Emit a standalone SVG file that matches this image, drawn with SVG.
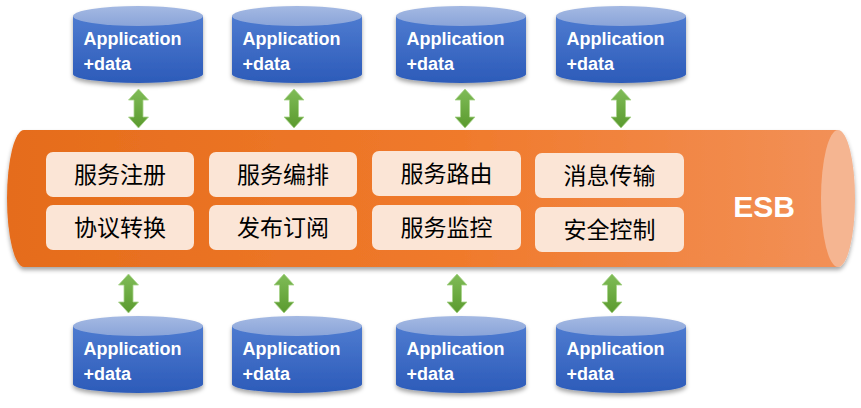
<svg xmlns="http://www.w3.org/2000/svg" width="861" height="408" viewBox="0 0 861 408">
<defs>
<linearGradient id="tubeG" x1="0" y1="0" x2="1" y2="0">
<stop offset="0" stop-color="#E56C1B"/>
<stop offset="0.55" stop-color="#F07A2C"/>
<stop offset="1" stop-color="#F29057"/>
</linearGradient>
<linearGradient id="bodyG" x1="0" y1="0" x2="0" y2="1">
<stop offset="0" stop-color="#4E7BD0"/>
<stop offset="1" stop-color="#2C5BB9"/>
</linearGradient>
<linearGradient id="topG" x1="0" y1="0" x2="0" y2="1">
<stop offset="0" stop-color="#A4B9E3"/>
<stop offset="1" stop-color="#8AA4D9"/>
</linearGradient>
<linearGradient id="arrG" x1="0" y1="0" x2="0" y2="1">
<stop offset="0" stop-color="#80BC58"/>
<stop offset="1" stop-color="#5A9A2E"/>
</linearGradient>
<filter id="sh" x="-10%" y="-10%" width="120%" height="130%">
<feDropShadow dx="0" dy="3" stdDeviation="2" flood-color="#000" flood-opacity="0.35"/>
</filter>
<g id="cyl">
<path d="M0,16 L0,74 A65,9 0 0 0 130,74 L130,16 Z" fill="url(#bodyG)"/>
<ellipse cx="65" cy="16" rx="65" ry="10" fill="url(#topG)"/>
</g>
<path id="arr" d="M0,0 L10,11 L4.5,11 L4.5,28 L10,28 L0,39 L-10,28 L-4.5,28 L-4.5,11 L-10,11 Z" fill="url(#arrG)" stroke="#A8D38A" stroke-width="0.8"/>
</defs>
<style>
.app{font-family:"Liberation Sans",Arial,sans-serif;font-weight:bold;font-size:18px;fill:#fff}
.box{fill:#FBE5D6}
.lbl{font-family:"Noto Sans CJK SC","Noto Sans",sans-serif;font-size:23px;fill:#000;text-anchor:middle}
.esb{font-family:"Liberation Sans",Arial,sans-serif;font-weight:bold;font-size:30px;fill:#fff;text-anchor:middle}
</style>
<rect width="861" height="408" fill="#fff"/>

<g id="esb">
<g filter="url(#sh)">
<path d="M838,130 L24,130 A17,68.5 0 0 0 24,267 L838,267 Z" fill="url(#tubeG)"/>
<ellipse cx="838" cy="198.5" rx="17" ry="68.5" fill="#F5B591"/>
</g>
<text class="esb" x="764" y="217">ESB</text>
</g>

<g id="box-zhuce"><rect class="box" x="46" y="152" width="148" height="45" rx="7"/><text class="lbl" x="120" y="183">服务注册</text></g>
<g id="box-bianpai"><rect class="box" x="209" y="152" width="148" height="45" rx="7"/><text class="lbl" x="283" y="183">服务编排</text></g>
<g id="box-luyou"><rect class="box" x="372" y="151" width="149" height="45" rx="7"/><text class="lbl" x="446.5" y="182">服务路由</text></g>
<g id="box-chuanshu"><rect class="box" x="535" y="153" width="149" height="45" rx="7"/><text class="lbl" x="609.5" y="184">消息传输</text></g>
<g id="box-zhuanhuan"><rect class="box" x="46" y="205" width="148" height="45" rx="7"/><text class="lbl" x="120" y="236">协议转换</text></g>
<g id="box-dingyue"><rect class="box" x="209" y="205" width="148" height="45" rx="7"/><text class="lbl" x="283" y="236">发布订阅</text></g>
<g id="box-jiankong"><rect class="box" x="372" y="205" width="149" height="45" rx="7"/><text class="lbl" x="446.5" y="236">服务监控</text></g>
<g id="box-anquan"><rect class="box" x="535" y="207" width="149" height="45" rx="7"/><text class="lbl" x="609.5" y="238">安全控制</text></g>

<g id="app-t1"><use href="#cyl" x="73" y="0" filter="url(#sh)"/><text class="app" x="83.5" y="44.5">Application</text><text class="app" x="83.5" y="69.5">+data</text></g>
<g id="app-t2"><use href="#cyl" x="232" y="0" filter="url(#sh)"/><text class="app" x="242.5" y="44.5">Application</text><text class="app" x="242.5" y="69.5">+data</text></g>
<g id="app-t3"><use href="#cyl" x="396" y="0" filter="url(#sh)"/><text class="app" x="406.5" y="44.5">Application</text><text class="app" x="406.5" y="69.5">+data</text></g>
<g id="app-t4"><use href="#cyl" x="556" y="0" filter="url(#sh)"/><text class="app" x="566.5" y="44.5">Application</text><text class="app" x="566.5" y="69.5">+data</text></g>

<g id="app-b1"><use href="#cyl" x="73" y="310" filter="url(#sh)"/><text class="app" x="83.5" y="355">Application</text><text class="app" x="83.5" y="380">+data</text></g>
<g id="app-b2"><use href="#cyl" x="232" y="310" filter="url(#sh)"/><text class="app" x="242.5" y="355">Application</text><text class="app" x="242.5" y="380">+data</text></g>
<g id="app-b3"><use href="#cyl" x="396" y="310" filter="url(#sh)"/><text class="app" x="406.5" y="355">Application</text><text class="app" x="406.5" y="380">+data</text></g>
<g id="app-b4"><use href="#cyl" x="556" y="310" filter="url(#sh)"/><text class="app" x="566.5" y="355">Application</text><text class="app" x="566.5" y="380">+data</text></g>

<g id="connectors">
<use href="#arr" x="138.5" y="89"/>
<use href="#arr" x="294" y="89"/>
<use href="#arr" x="465" y="89"/>
<use href="#arr" x="621" y="89"/>
<use href="#arr" x="128.5" y="274"/>
<use href="#arr" x="284" y="274"/>
<use href="#arr" x="457" y="274"/>
<use href="#arr" x="612" y="274"/>
</g>
</svg>
